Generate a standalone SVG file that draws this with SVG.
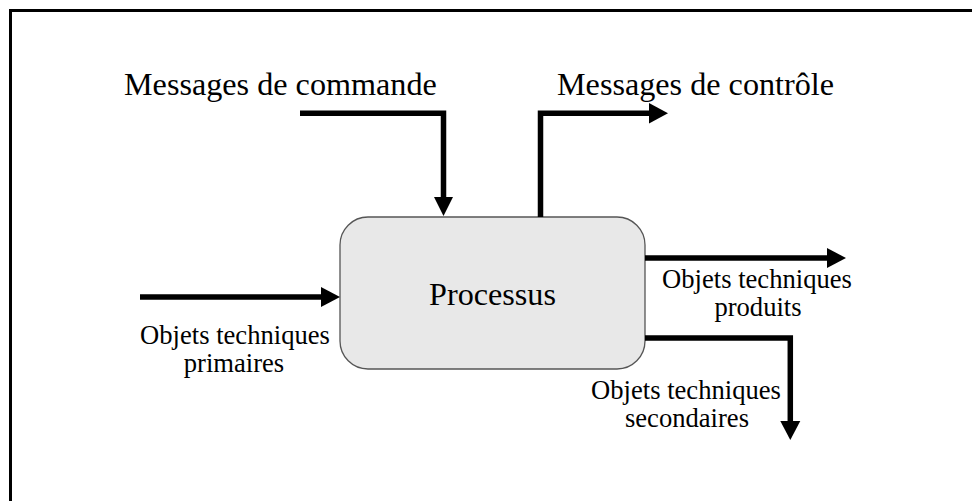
<svg xmlns="http://www.w3.org/2000/svg" width="972" height="501" viewBox="0 0 972 501">
<style>
.t{font-family:"Liberation Serif","Times New Roman",serif;fill:#000}
.big{font-size:32.2px}
.sm{font-size:26.6px}
.ln{fill:none;stroke:#000;stroke-width:5.5;stroke-linejoin:miter}
.ah{fill:#000;stroke:none}
</style>
<rect x="0" y="0" width="972" height="501" fill="#fff"/>
<rect x="10.5" y="10.5" width="1000" height="1000" fill="none" stroke="#000" stroke-width="3"/>
<g id="processus">
<rect x="340" y="217" width="305" height="152" rx="28" ry="28" fill="#e8e8e8" stroke="#555" stroke-width="1.3"/>
<text class="t big" x="492.5" y="305" text-anchor="middle">Processus</text>
</g>
<g id="connectors">
<line class="ln" x1="140" y1="297" x2="322" y2="297"/>
<polygon class="ah" points="321,287 340,297 321,307"/>
<polyline class="ln" points="300,113.3 443.5,113.3 443.5,198"/>
<polygon class="ah" points="434,197 453,197 443.5,216"/>
<polyline class="ln" points="540.5,217 540.5,113.3 650,113.3"/>
<polygon class="ah" points="649,103 668,113.3 649,123.6"/>
<line class="ln" x1="645" y1="258" x2="828" y2="258"/>
<polygon class="ah" points="827,248 846,258 827,268"/>
<polyline class="ln" points="645,338 790.3,338 790.3,422"/>
<polygon class="ah" points="780.3,421 800.3,421 790.3,440"/>
</g>
<g id="labels">
<text class="t big" x="124" y="95">Messages de commande</text>
<text class="t big" x="557" y="95">Messages de contrôle</text>
<text class="t sm" x="235" y="344" text-anchor="middle">Objets techniques</text>
<text class="t sm" x="234" y="372" text-anchor="middle">primaires</text>
<text class="t sm" x="757" y="288" text-anchor="middle">Objets techniques</text>
<text class="t sm" x="758" y="316" text-anchor="middle">produits</text>
<text class="t sm" x="686" y="399" text-anchor="middle">Objets techniques</text>
<text class="t sm" x="687" y="427" text-anchor="middle">secondaires</text>
</g>
</svg>
